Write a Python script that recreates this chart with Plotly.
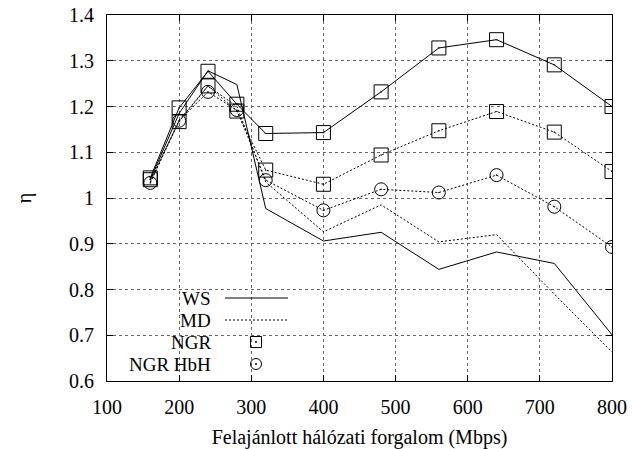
import plotly.graph_objects as go

# ---- data ----
load = [160, 200, 240, 280, 320, 400, 480, 560, 640, 720, 800]
ws = [1.04, 1.185, 1.278, 1.248, 0.977, 0.906, 0.925, 0.844, 0.882, 0.857, 0.701]
md = [1.035, 1.17, 1.245, 1.2, 1.035, 0.926, 0.985, 0.904, 0.92, 0.79, 0.663]
ngr_ws = [1.044, 1.197, 1.277, 1.205, 1.141, 1.143, 1.232, 1.328, 1.346, 1.291, 1.2]
ngr_md = [1.04, 1.167, 1.245, 1.19, 1.061, 1.03, 1.094, 1.147, 1.189, 1.144, 1.058]
hbh_md = [1.033, 1.169, 1.232, 1.192, 1.039, 0.973, 1.019, 1.012, 1.05, 0.981, 0.893]
legend_labels = ["WS", "MD", "NGR", "NGR HbH"]
xticks = [100, 200, 300, 400, 500, 600, 700, 800]
yticks = [0.6, 0.7, 0.8, 0.9, 1.0, 1.1, 1.2, 1.3, 1.4]
ytick_text = ["0.6", "0.7", "0.8", "0.9", "1", "1.1", "1.2", "1.3", "1.4"]

FONT = "Liberation Serif"
DOT = "2px,2px"

fig = go.Figure()
fig.add_trace(go.Scatter(x=load, y=ws, mode="lines", line=dict(color="black", width=1)))
fig.add_trace(go.Scatter(x=load, y=md, mode="lines", line=dict(color="black", width=1, dash=DOT)))
fig.add_trace(go.Scatter(x=load, y=ngr_ws, mode="lines+markers", line=dict(color="black", width=1),
                         marker=dict(symbol="square-open-dot", size=14, color="black", line=dict(width=1))))
fig.add_trace(go.Scatter(x=load, y=ngr_md, mode="lines+markers", line=dict(color="black", width=1, dash=DOT),
                         marker=dict(symbol="square-open-dot", size=14, color="black", line=dict(width=1))))
fig.add_trace(go.Scatter(x=load, y=hbh_md, mode="lines+markers", line=dict(color="black", width=1, dash=DOT),
                         marker=dict(symbol="circle-open-dot", size=13, color="black", line=dict(width=1))))

# ---- manual gnuplot-style key (text right, sample on the right) ----
L, R, T, B = 107, 612, 15, 381
W, H = R - L, B - T
def px(xp): return (xp - L) / W
def py(yp): return (B - yp) / H

rows = [298, 320, 342, 364]
annotations = []
shapes = []
for lab, yp in zip(legend_labels, rows):
    annotations.append(dict(x=px(212), y=py(yp), xref="paper", yref="paper", text=lab,
                            showarrow=False, xanchor="right", yanchor="middle", borderpad=0,
                            font=dict(family=FONT, size=19, color="black")))
shapes.append(dict(type="line", xref="paper", yref="paper", x0=px(225), x1=px(288),
                   y0=py(rows[0]), y1=py(rows[0]), line=dict(color="black", width=1)))
shapes.append(dict(type="line", xref="paper", yref="paper", x0=px(225), x1=px(288),
                   y0=py(rows[1]), y1=py(rows[1]), line=dict(color="black", width=1, dash=DOT)))
# square sample
shapes.append(dict(type="rect", xref="paper", yref="paper", xsizemode="pixel", ysizemode="pixel",
                   xanchor=px(256), yanchor=py(rows[2]), x0=-5.5, x1=5.5, y0=-5.5, y1=5.5,
                   line=dict(color="black", width=1)))
shapes.append(dict(type="circle", xref="paper", yref="paper", xsizemode="pixel", ysizemode="pixel",
                   xanchor=px(256), yanchor=py(rows[3]), x0=-5.5, x1=5.5, y0=-5.5, y1=5.5,
                   line=dict(color="black", width=1)))
for yp in rows[2:]:
    shapes.append(dict(type="circle", xref="paper", yref="paper", xsizemode="pixel", ysizemode="pixel",
                       xanchor=px(256), yanchor=py(yp), x0=-1, x1=1, y0=-1, y1=1,
                       fillcolor="black", line=dict(color="black", width=0)))

axis_common = dict(showline=True, linecolor="black", linewidth=1, mirror="ticks",
                   ticks="inside", ticklen=6, tickcolor="black", automargin=False,
                   showgrid=True, gridcolor="#666666", gridwidth=1, griddash="dot",
                   zeroline=False, tickfont=dict(family=FONT, size=20, color="black"))

fig.update_layout(
    width=632, height=449,
    margin=dict(l=L, r=632 - R, t=T, b=449 - B, autoexpand=False),
    plot_bgcolor="white", paper_bgcolor="white",
    showlegend=False,
    font=dict(family=FONT, size=20, color="black"),
    xaxis=dict(range=[100, 800], tickvals=xticks, ticklabelstandoff=8,
               title=dict(text="Felajánlott hálózati forgalom (Mbps)", standoff=12,
                          font=dict(family=FONT, size=20)),
               **axis_common),
    yaxis=dict(range=[0.6, 1.4], tickvals=yticks, ticktext=ytick_text, ticklabelstandoff=8,
               title=dict(text="η", standoff=32, font=dict(family=FONT, size=20)),
               **axis_common),
    annotations=annotations,
    shapes=shapes,
)

fig.write_html("out.html")
